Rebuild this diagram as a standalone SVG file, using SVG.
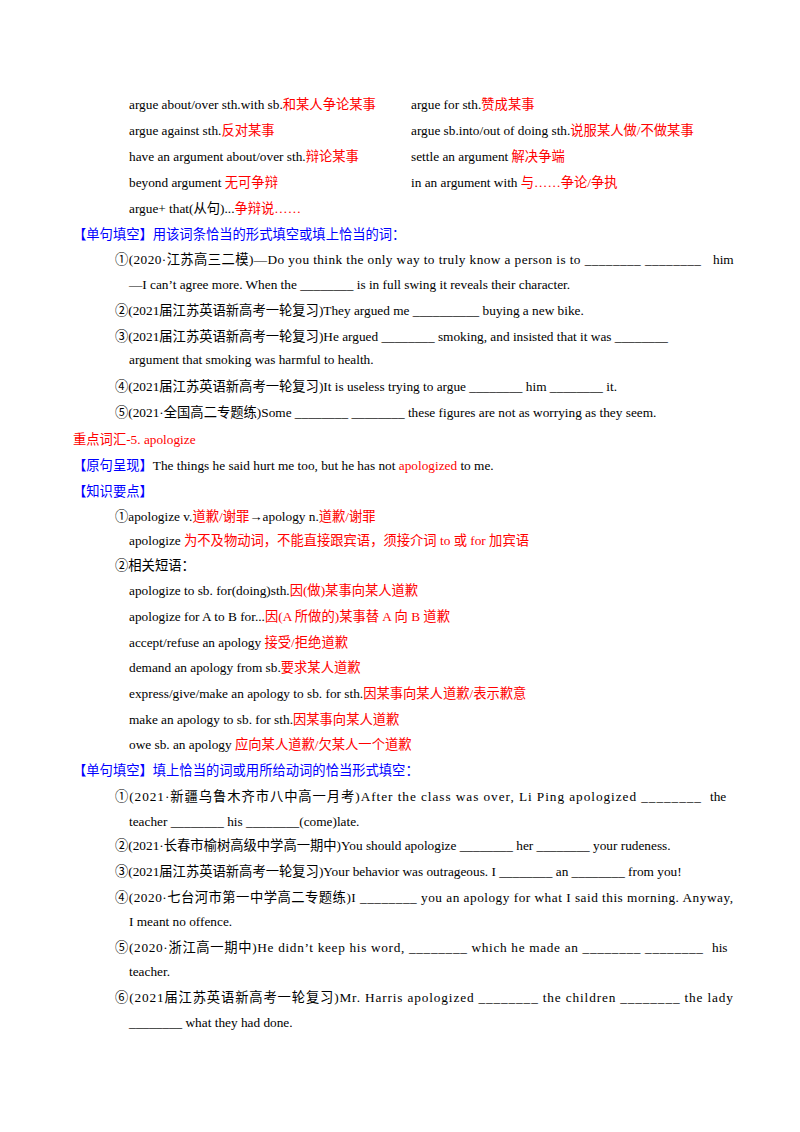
<svg xmlns="http://www.w3.org/2000/svg" width="800" height="1132" viewBox="0 0 800 1132">
<style>
text{font-family:"Liberation Serif","Noto Sans CJK SC",serif;font-size:13.3px;fill:#000}
.r{fill:#FF0000}.b{fill:#0000FF}
</style>
<rect width="800" height="1132" fill="#fff"/>
<text x="129" y="109">argue about/over sth.with sb.<tspan class="r">和某人争论某事</tspan></text>
<text x="411" y="109">argue for sth.<tspan class="r">赞成某事</tspan></text>
<text x="129" y="135">argue against sth.<tspan class="r">反对某事</tspan></text>
<text x="411" y="135">argue sb.into/out of doing sth.<tspan class="r">说服某人做/不做某事</tspan></text>
<text x="129" y="161">have an argument about/over sth.<tspan class="r">辩论某事</tspan></text>
<text x="411" y="161">settle an argument <tspan class="r">解决争端</tspan></text>
<text x="129" y="187">beyond argument <tspan class="r">无可争辩</tspan></text>
<text x="411" y="187">in an  argument  with <tspan class="r">与……争论/争执</tspan></text>
<text x="129" y="213">argue+  that(从句)...<tspan class="r">争辩说……</tspan></text>
<text x="73" y="239" class="b">【单句填空】用该词条恰当的形式填空或填上恰当的词：</text>
<text x="115" y="264" textLength="586" lengthAdjust="spacing">①(2020·江苏高三二模)—Do you think the only way to truly know a person is to ________ ________</text>
<text x="713" y="264">him</text>
<text x="129" y="289">—I can’t agree more. When the ________ is  in full swing it reveals their character.</text>
<text x="115" y="315">②(2021届江苏英语新高考一轮复习)They argued me __________ buying a new bike.</text>
<text x="115" y="341">③(2021届江苏英语新高考一轮复习)He argued ________ smoking, and insisted that it was ________</text>
<text x="129" y="364">argument that smoking was harmful to health.</text>
<text x="115" y="391">④(2021届江苏英语新高考一轮复习)It is useless trying to  argue  ________  him  ________ it.</text>
<text x="115" y="417">⑤(2021·全国高二专题练)Some ________  ________  these figures are not as worrying as they seem.</text>
<text x="73" y="444" class="r">重点词汇-5.  apologize</text>
<text x="73" y="470"><tspan class="b">【原句呈现】</tspan>The things he said hurt me too, but he has not  <tspan class="r">apologized</tspan>  to me.</text>
<text x="73" y="496" class="b">【知识要点】</text>
<text x="115" y="521">①apologize v.<tspan class="r">道歉/谢罪</tspan>→apology n.<tspan class="r">道歉/谢罪</tspan></text>
<text x="129" y="545">apologize <tspan class="r">为不及物动词，不能直接跟宾语，须接介词 to 或 for 加宾语</tspan></text>
<text x="115" y="570">②相关短语：</text>
<text x="129" y="595">apologize to sb. for(doing)sth.<tspan class="r">因(做)某事向某人道歉</tspan></text>
<text x="129" y="621">apologize  for  A  to  B  for...<tspan class="r">因(A 所做的)某事替 A 向 B 道歉</tspan></text>
<text x="129" y="647">accept/refuse an apology <tspan class="r">接受/拒绝道歉</tspan></text>
<text x="129" y="672">demand an apology from sb.<tspan class="r">要求某人道歉</tspan></text>
<text x="129" y="698">express/give/make an apology to sb. for sth.<tspan class="r">因某事向某人道歉/表示歉意</tspan></text>
<text x="129" y="724">make an apology to sb.  for sth.<tspan class="r">因某事向某人道歉</tspan></text>
<text x="129" y="749">owe sb. an apology <tspan class="r">应向某人道歉/欠某人一个道歉</tspan></text>
<text x="73" y="775" class="b">【单句填空】填上恰当的词或用所给动词的恰当形式填空：</text>
<text x="115" y="801" textLength="586" lengthAdjust="spacing">①(2021·新疆乌鲁木齐市八中高一月考)After the class was over, Li Ping apologized ________</text>
<text x="710" y="801">the</text>
<text x="129" y="826">teacher ________ his  ________(come)late.</text>
<text x="115" y="850">②(2021·长春市榆树高级中学高一期中)You should apologize ________ her ________ your rudeness.</text>
<text x="115" y="876">③(2021届江苏英语新高考一轮复习)Your behavior was outrageous. I ________ an ________ from you!</text>
<text x="115" y="902" textLength="618" lengthAdjust="spacing">④(2020·七台河市第一中学高二专题练)I ________ you an apology for what I said this morning. Anyway,</text>
<text x="129" y="926">I meant no offence.</text>
<text x="115" y="952" textLength="588" lengthAdjust="spacing">⑤(2020·浙江高一期中)He didn’t keep his word, ________ which he made an ________ ________</text>
<text x="712" y="952">his</text>
<text x="129" y="976">teacher.</text>
<text x="115" y="1002" textLength="618" lengthAdjust="spacing">⑥(2021届江苏英语新高考一轮复习)Mr. Harris apologized ________ the children ________ the lady</text>
<text x="129" y="1027">________ what they had done.</text>
</svg>
